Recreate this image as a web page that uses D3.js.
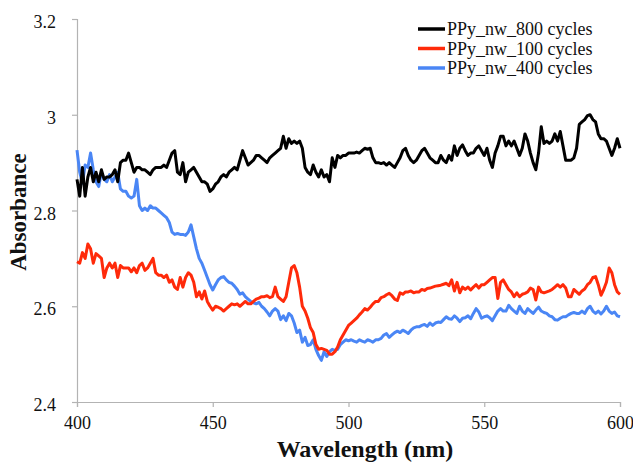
<!DOCTYPE html>
<html>
<head>
<meta charset="utf-8">
<script src="https://cdn.jsdelivr.net/npm/d3@7"></script>
<style>
  body { margin: 0; background: #fff; }
  svg { display: block; }
  text { font-family: "Liberation Serif", "DejaVu Serif", serif; fill: #111; }
</style>
</head>
<body>
<div id="chart"></div>
<script>
// Absorbance spectra, one value per nm from 400 to 600.
var wavelengths = d3.range(400, 601, 1);

var cycles800 = [
  2.865, 2.83, 2.89, 2.83, 2.87, 2.89, 2.86, 2.88, 2.86, 2.885,
  2.865, 2.87, 2.87, 2.875, 2.885, 2.86, 2.90, 2.905, 2.905, 2.92,
  2.90, 2.88, 2.89, 2.89, 2.885, 2.885, 2.88, 2.875, 2.885, 2.89,
  2.89, 2.89, 2.895, 2.89, 2.905, 2.92, 2.925, 2.88, 2.875, 2.90,
  2.86, 2.88, 2.885, 2.89, 2.88, 2.87, 2.86, 2.86, 2.855, 2.84,
  2.845, 2.855, 2.86, 2.87, 2.875, 2.87, 2.88, 2.885, 2.89, 2.885,
  2.905, 2.925, 2.91, 2.895, 2.90, 2.905, 2.915, 2.915, 2.91, 2.905,
  2.90, 2.91, 2.915, 2.92, 2.925, 2.93, 2.955, 2.93, 2.95, 2.94,
  2.945, 2.94, 2.945, 2.93, 2.89, 2.88, 2.875, 2.895, 2.88, 2.87,
  2.885, 2.87, 2.875, 2.86, 2.91, 2.89, 2.915, 2.91, 2.915, 2.915,
  2.92, 2.92, 2.92, 2.922, 2.92, 2.925, 2.93, 2.928, 2.93, 2.91,
  2.90, 2.90, 2.898, 2.90, 2.895, 2.90, 2.895, 2.89, 2.90, 2.91,
  2.925, 2.93, 2.915, 2.905, 2.90, 2.905, 2.915, 2.925, 2.93, 2.92,
  2.91, 2.905, 2.90, 2.90, 2.915, 2.905, 2.90, 2.915, 2.905, 2.935,
  2.915, 2.93, 2.937, 2.925, 2.915, 2.92, 2.92, 2.93, 2.935, 2.925,
  2.915, 2.93, 2.905, 2.89, 2.92, 2.935, 2.955, 2.955, 2.935, 2.945,
  2.935, 2.945, 2.93, 2.915, 2.93, 2.96, 2.945, 2.92, 2.90, 2.885,
  2.92, 2.975, 2.94, 2.945, 2.94, 2.945, 2.96, 2.945, 2.965, 2.935,
  2.905, 2.905, 2.905, 2.91, 2.93, 2.98, 2.985, 2.99, 2.998, 3.0,
  2.99, 2.985, 2.96, 2.95, 2.95, 2.945, 2.93, 2.915, 2.93, 2.95,
  2.93
];

var cycles100 = [
  2.693, 2.69, 2.712, 2.70, 2.73, 2.72, 2.69, 2.71, 2.705, 2.70,
  2.66, 2.68, 2.69, 2.68, 2.69, 2.66, 2.685, 2.68, 2.68, 2.68,
  2.672, 2.68, 2.67, 2.685, 2.69, 2.675, 2.68, 2.69, 2.70, 2.67,
  2.665, 2.665, 2.66, 2.665, 2.65, 2.655, 2.64, 2.635, 2.66, 2.64,
  2.66, 2.67, 2.665, 2.65, 2.62, 2.63, 2.615, 2.632, 2.61, 2.60,
  2.592, 2.60, 2.598, 2.595, 2.59, 2.595, 2.60, 2.605, 2.603, 2.605,
  2.60, 2.605, 2.61, 2.605, 2.605, 2.61, 2.615, 2.617, 2.62, 2.62,
  2.622, 2.618, 2.62, 2.64, 2.62, 2.615, 2.61, 2.62, 2.65, 2.68,
  2.685, 2.67, 2.64, 2.60, 2.59, 2.575, 2.555, 2.545, 2.52, 2.51,
  2.512, 2.51, 2.508, 2.50, 2.50, 2.505, 2.515, 2.53, 2.54, 2.55,
  2.56, 2.565, 2.57, 2.575, 2.582, 2.588, 2.595, 2.592, 2.598, 2.605,
  2.61, 2.61, 2.618, 2.62, 2.624, 2.627, 2.622, 2.615, 2.612, 2.628,
  2.625, 2.63, 2.63, 2.632, 2.628, 2.63, 2.63, 2.635, 2.633, 2.637,
  2.638, 2.64, 2.642, 2.643, 2.644, 2.646, 2.648, 2.643, 2.655, 2.632,
  2.65, 2.628, 2.64, 2.635, 2.64, 2.634, 2.64, 2.645, 2.638, 2.645,
  2.645, 2.65, 2.655, 2.66, 2.66, 2.616, 2.65, 2.655, 2.645, 2.635,
  2.63, 2.62, 2.628, 2.62, 2.625, 2.627, 2.63, 2.638, 2.635, 2.613,
  2.64, 2.63, 2.628, 2.63, 2.632, 2.635, 2.64, 2.645, 2.64, 2.645,
  2.638, 2.62, 2.62, 2.635, 2.63, 2.625, 2.632, 2.636, 2.645, 2.65,
  2.66, 2.662, 2.645, 2.623, 2.635, 2.65, 2.68, 2.67, 2.645, 2.63,
  2.625
];

var cycles400 = [
  2.926, 2.88, 2.857, 2.895, 2.89, 2.92, 2.885, 2.86, 2.85, 2.88,
  2.865, 2.86, 2.875, 2.86, 2.87, 2.88, 2.845, 2.84, 2.84, 2.83,
  2.826, 2.83, 2.865, 2.81, 2.80, 2.805, 2.80, 2.81, 2.805, 2.805,
  2.80, 2.795, 2.79, 2.785, 2.775, 2.755, 2.75, 2.752, 2.75, 2.75,
  2.748, 2.755, 2.77, 2.745, 2.72, 2.70, 2.69, 2.675, 2.66, 2.645,
  2.634, 2.645, 2.655, 2.66, 2.662, 2.655, 2.65, 2.648, 2.642, 2.635,
  2.625, 2.628, 2.62, 2.615, 2.61, 2.607, 2.605, 2.608, 2.60, 2.595,
  2.588, 2.58, 2.59, 2.595, 2.59, 2.572, 2.58, 2.57, 2.585, 2.58,
  2.565, 2.545, 2.55, 2.525, 2.535, 2.518, 2.52, 2.53, 2.51, 2.497,
  2.487, 2.505, 2.495, 2.505, 2.51, 2.508, 2.51, 2.52, 2.525, 2.53,
  2.528, 2.53, 2.527, 2.525, 2.53, 2.527, 2.525, 2.53, 2.528, 2.525,
  2.53, 2.53, 2.533, 2.54, 2.543, 2.535, 2.54, 2.545, 2.548, 2.545,
  2.55, 2.547, 2.543, 2.55, 2.555, 2.557, 2.557, 2.56, 2.562, 2.558,
  2.565, 2.56, 2.565, 2.567, 2.566, 2.572, 2.578, 2.574, 2.573, 2.58,
  2.575, 2.568, 2.575, 2.576, 2.58, 2.574, 2.585, 2.595, 2.588, 2.575,
  2.578, 2.58, 2.576, 2.57, 2.58, 2.59, 2.595, 2.59, 2.59, 2.602,
  2.595, 2.59, 2.585, 2.60, 2.59, 2.585, 2.595, 2.59, 2.585, 2.592,
  2.598, 2.59, 2.587, 2.585, 2.58, 2.578, 2.572, 2.571, 2.575, 2.578,
  2.578, 2.582, 2.585, 2.587, 2.585, 2.585, 2.59, 2.585, 2.595, 2.60,
  2.59, 2.585, 2.59, 2.584, 2.59, 2.60, 2.59, 2.585, 2.588, 2.58,
  2.578
];

var seriesNames = ["PPy_nw_800 cycles", "PPy_nw_100 cycles", "PPy_nw_400 cycles"];
var seriesColors = ["#000000", "#ff2a0a", "#4a86f5"];
var seriesValues = [cycles800, cycles100, cycles400];

var xTicks = [400, 450, 500, 550, 600];
var yTicks = [2.4, 2.6, 2.8, 3, 3.2];

var chartWidth = 633, chartHeight = 465;
var plotLeft = 77, plotRight = 620, plotTop = 19, plotBottom = 402;

var svg = d3.select("#chart").append("svg")
  .attr("width", chartWidth)
  .attr("height", chartHeight);

var x = d3.scaleLinear().domain([400, 600]).range([plotLeft, plotRight]);
var y = d3.scaleLinear().domain([2.4, 3.2]).range([plotBottom, plotTop]);

// Axes: thin grey lines with outside ticks, serif labels.
var xAxis = svg.append("g")
  .attr("transform", "translate(0," + plotBottom + ")")
  .call(d3.axisBottom(x).tickValues(xTicks).tickFormat(d3.format("d")).tickSize(5).tickPadding(9));

var yAxis = svg.append("g")
  .attr("transform", "translate(" + plotLeft + ",0)")
  .call(d3.axisLeft(y).tickValues(yTicks).tickFormat(function(d) { return String(d); }).tickSize(5).tickPadding(16));

[xAxis, yAxis].forEach(function(ax) {
  ax.select(".domain").attr("stroke", "#b3b3b3").attr("stroke-width", 1.2);
  ax.selectAll(".tick line").attr("stroke", "#b3b3b3").attr("stroke-width", 1.2);
  ax.selectAll(".tick text")
    .attr("fill", "#1a1a1a")
    .style("font-family", "'Liberation Serif', serif")
    .style("font-size", "18px");
});
yAxis.selectAll(".tick text").attr("dy", "0.48em");

// Spectra
var line = d3.line()
  .x(function(d, i) { return x(wavelengths[i]); })
  .y(function(d) { return y(d); });

var plot = svg.append("g");
for (var s = seriesValues.length - 1; s >= 0; s--) {
  plot.append("path")
    .datum(seriesValues[s])
    .attr("fill", "none")
    .attr("stroke", seriesColors[s])
    .attr("stroke-width", 3)
    .attr("stroke-linejoin", "round")
    .attr("d", line);
}

// Legend in the top right corner
var legend = svg.append("g");
for (var k = 0; k < seriesNames.length; k++) {
  var ly = 29 + k * 19.5;
  legend.append("line")
    .attr("x1", 418).attr("x2", 445)
    .attr("y1", ly).attr("y2", ly)
    .attr("stroke", seriesColors[k])
    .attr("stroke-width", 3.5);
  legend.append("text")
    .attr("x", 447).attr("y", ly + 6)
    .style("font-size", "18px")
    .text(seriesNames[k]);
}

// Axis titles
svg.append("text")
  .attr("x", 365).attr("y", 457)
  .attr("text-anchor", "middle")
  .style("font-size", "24px")
  .style("font-weight", "bold")
  .text("Wavelength (nm)");

svg.append("text")
  .attr("transform", "translate(26,212) rotate(-90)")
  .attr("text-anchor", "middle")
  .style("font-size", "23px")
  .style("font-weight", "bold")
  .text("Absorbance");
</script>
</body>
</html>
